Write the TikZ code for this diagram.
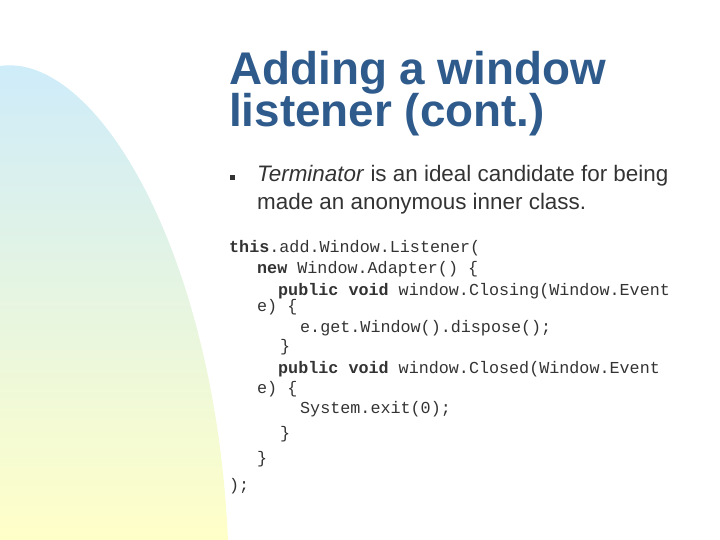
\documentclass[tikz,border=0pt]{standalone}
\usepackage{fontspec}
\setmainfont{Liberation Sans}
\setmonofont{Liberation Mono}
\definecolor{titleblue}{HTML}{2F5B8C}
\definecolor{codegray}{HTML}{333333}
\definecolor{swooshblue}{HTML}{CDEBFB}
\definecolor{swooshyellow}{HTML}{FFFFC8}
\tikzset{
  code/.style={anchor=base west, inner sep=0pt, font=\ttfamily\fontsize{16.8}{19}\selectfont, text=codegray},
  body/.style={anchor=base west, inner sep=0pt, font=\fontsize{22.5}{26}\selectfont, text=codegray},
  heading/.style={anchor=base west, inner sep=0pt, text=titleblue, font=\bfseries\fontsize{46}{44}\selectfont},
}
\begin{document}
\begin{tikzpicture}[x=1bp,y=-1bp]
\useasboundingbox (0,0) rectangle (720,540);
% background swoosh
\shade[top color=swooshblue, bottom color=swooshyellow, draw=none]
  (0,540) -- (0,66) .. controls (95,52) and (215,250) .. (228,540) -- cycle;
% title
\node[heading] (t1) at (229,85) {Adding a window};
\node[heading] (t2) at (229,127) {listener (cont.)};
% bullet
\fill[codegray] (230,175) rectangle (235,180);
\node[body] (b1) at (257,182) {\textit{Terminator} is an ideal candidate for being};
\node[body] (b2) at (257,210) {made an anonymous inner class.};
% code
\node[code] (c1) at (229,253) {\textbf{this}.add.Window.Listener(};
\node[code] (c2) at (257,274) {\textbf{new} Window.Adapter() \{};
\node[code] (c3) at (278,295) {\textbf{public void} window.Closing(Window.Event};
\node[code] (c4) at (257,311) {e) \{};
\node[code] (c5) at (300,332) {e.get.Window().dispose();};
\node[code] (c6) at (280,351) {\}};
\node[code] (c7) at (278,373) {\textbf{public void} window.Closed(Window.Event};
\node[code] (c8) at (257,393) {e) \{};
\node[code] (c9) at (300,413) {System.exit(0);};
\node[code] (c10) at (280,438) {\}};
\node[code] (c11) at (257,463) {\}};
\node[code] (c12) at (229,490) {);};
\end{tikzpicture}
\end{document}
